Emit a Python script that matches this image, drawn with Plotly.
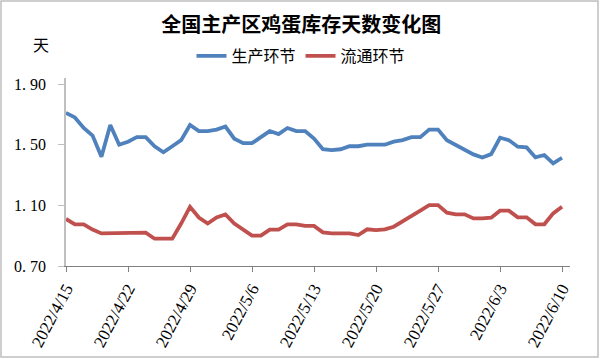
import plotly.graph_objects as go
import pandas as pd

dates = pd.date_range("2022-04-15", "2022-06-10", freq="D")

production = [1.71, 1.68, 1.61, 1.56, 1.42, 1.63, 1.50, 1.52, 1.55, 1.55,
              1.49, 1.45, 1.49, 1.53, 1.63, 1.59, 1.59, 1.60, 1.62, 1.54,
              1.51, 1.51, 1.55, 1.59, 1.57, 1.61, 1.59, 1.59, 1.54, 1.47,
              1.465, 1.47, 1.49, 1.49, 1.50, 1.50, 1.50, 1.52, 1.53, 1.55,
              1.55, 1.60, 1.60, 1.53, 1.50, 1.47, 1.436, 1.416, 1.438, 1.546,
              1.53, 1.487, 1.482, 1.416, 1.432, 1.377, 1.414]

circulation = [1.01, 0.975, 0.975, 0.94, 0.915, 0.915, 0.915, 0.915, 0.92, 0.92,
               0.88, 0.88, 0.88, 0.98, 1.09, 1.02, 0.98, 1.02, 1.04, 0.98,
               0.94, 0.90, 0.90, 0.94, 0.94, 0.975, 0.975, 0.964, 0.964, 0.922,
               0.915, 0.915, 0.915, 0.904, 0.942, 0.937, 0.942, 0.959, 0.992, 1.032,
               1.065, 1.102, 1.102, 1.052, 1.041, 1.041, 1.014, 1.014, 1.019, 1.065,
               1.065, 1.021, 1.021, 0.975, 0.975, 1.047, 1.091]

series_names = ["生产环节", "流通环节"]
series_colors = ["#4f81bd", "#c0504d"]

x_tick_vals = ["2022-04-15", "2022-04-22", "2022-04-29", "2022-05-06", "2022-05-13",
               "2022-05-20", "2022-05-27", "2022-06-03", "2022-06-10"]
x_tick_text = ["2022/4/15", "2022/4/22", "2022/4/29", "2022/5/6", "2022/5/13",
               "2022/5/20", "2022/5/27", "2022/6/3", "2022/6/10"]
y_tick_vals = [0.70, 1.10, 1.50, 1.90]
y_tick_text = ["0. 70", "1. 10", "1. 50", "1. 90"]

W, H = 600, 359
L, R, T, B = 66, 30, 78, 93
pw, ph = W - L - R, H - T - B

fig = go.Figure()
for name, vals, col in zip(series_names, [production, circulation], series_colors):
    fig.add_trace(go.Scatter(x=dates, y=vals, mode="lines", name=name,
                             line=dict(color=col, width=3.8)))

fig.update_layout(
    width=W, height=H,
    margin=dict(l=L, r=R, t=T, b=B, autoexpand=False),
    paper_bgcolor="white", plot_bgcolor="white",
    title=dict(text="<b>全国主产区鸡蛋库存天数变化图</b>", x=0.502, xanchor="center",
               y=1 - 25 / H, yanchor="middle", yref="container",
               font=dict(family="Noto Sans CJK SC", size=20, color="black")),
    legend=dict(orientation="h", x=301 / W, xanchor="center", xref="container",
                y=1 - 56 / H, yanchor="middle", yref="container",
                font=dict(family="Noto Sans CJK SC", size=16, color="black"),
                itemwidth=30, tracegroupgap=0),
    showlegend=True,
)
fig.update_xaxes(
    type="date", range=["2022-04-15", "2022-06-10 21:36"],
    tickvals=x_tick_vals, ticktext=x_tick_text, tickangle=-62,
    ticks="outside", ticklen=5, tickcolor="#808080",
    showline=True, linecolor="#808080", linewidth=1,
    showgrid=False, zeroline=False, automargin=False,
    tickfont=dict(family="Liberation Serif", size=17, color="black"),
)
fig.update_yaxes(
    range=[0.70, 1.94], tickvals=y_tick_vals, ticktext=y_tick_text,
    ticks="outside", ticklen=6, tickcolor="#bfbfbf", ticklabelstandoff=9,
    showline=True, linecolor="#bfbfbf", linewidth=1.5,
    showgrid=False, zeroline=False, automargin=False,
    tickfont=dict(family="Liberation Serif", size=16, color="black"),
)
fig.add_annotation(text="天", xref="paper", yref="paper",
                   x=(41 - L) / pw, y=(ph + T - 44) / ph,
                   xanchor="center", yanchor="middle", showarrow=False,
                   font=dict(family="Noto Sans CJK SC", size=16, color="black"))
fig.add_shape(type="rect", xref="paper", yref="paper",
              x0=(1 - L) / pw, x1=(598 - L) / pw,
              y0=(ph + T - 1) / ph, y1=(ph + T - 357) / ph,
              line=dict(color="#bfbfbf", width=1.5), fillcolor="rgba(0,0,0,0)", layer="below")

fig.write_html("out.html", config={"displayModeBar": False},
               post_script="document.body.style.margin='0px';")
